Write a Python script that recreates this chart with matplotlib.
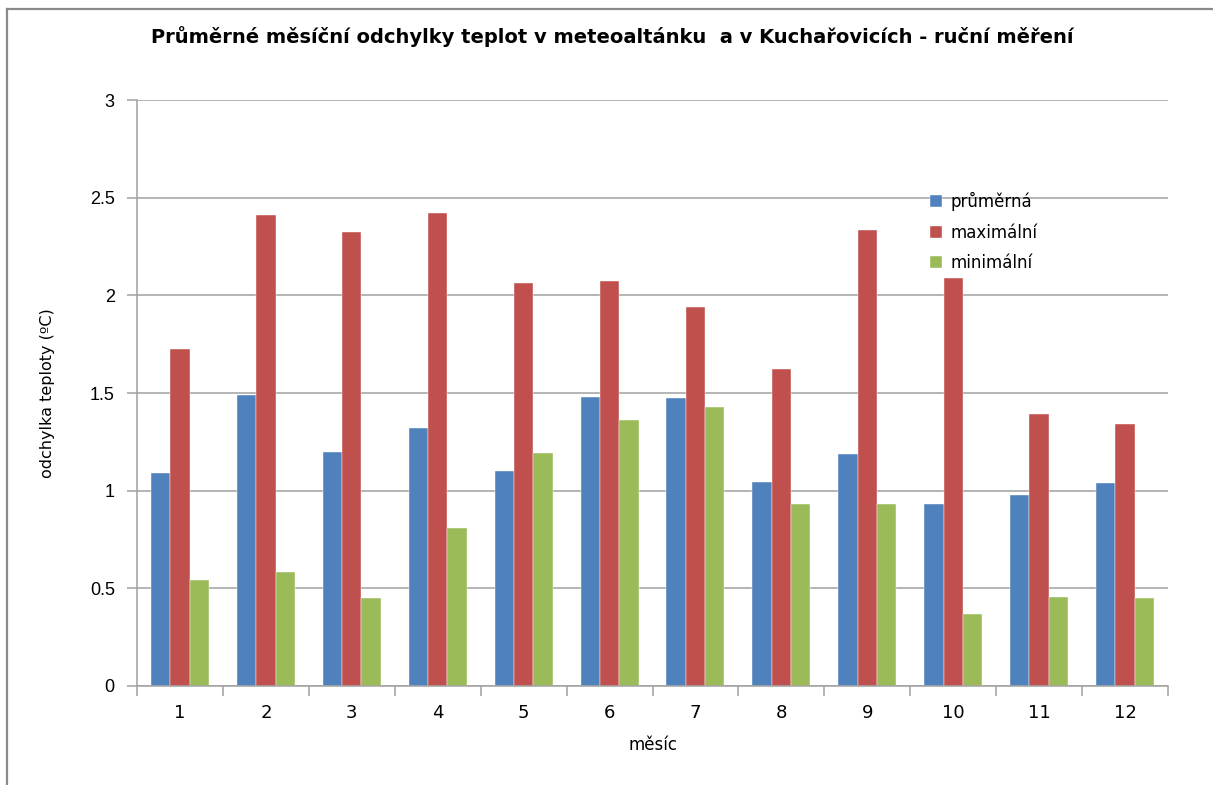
import matplotlib
matplotlib.use("Agg")
import matplotlib.pyplot as plt
from matplotlib.lines import Line2D
import numpy as np

months = ["1", "2", "3", "4", "5", "6", "7", "8", "9", "10", "11", "12"]
prumerna = [1.09, 1.49, 1.20, 1.32, 1.10, 1.48, 1.475, 1.045, 1.19, 0.93, 0.98, 1.04]
maximalni = [1.727, 2.41, 2.325, 2.42, 2.063, 2.075, 1.94, 1.625, 2.335, 2.09, 1.393, 1.34]
minimalni = [0.543, 0.586, 0.45, 0.809, 1.193, 1.362, 1.428, 0.932, 0.932, 0.369, 0.456, 0.45]
series_names = ["průměrná", "maximální", "minimální"]
series_colors = ["#4F81BD", "#C0504D", "#9BBB59"]
yticks = [0, 0.5, 1, 1.5, 2, 2.5, 3]
ytick_labels = ["0", "0.5", "1", "1.5", "2", "2.5", "3"]

W, H = 1213, 785
fig = plt.figure(figsize=(W / 100, H / 100), dpi=100)
fig.patch.set_facecolor("white")

# outer frame of the chart object (top and left edges)
fig.add_artist(Line2D([6.5 / W, 1.0], [1 - 8.5 / H, 1 - 8.5 / H], color="#8a8a8a", lw=1.6))
fig.add_artist(Line2D([6.5 / W, 6.5 / W], [0.0, 1 - 8.5 / H], color="#8a8a8a", lw=1.6))

left, right, top, bottom = 137, 1168, 100, 686
ax = fig.add_axes([left / W, 1 - bottom / H, (right - left) / W, (bottom - top) / H])

x = np.arange(len(months))
bw = 0.225
for i, (vals, name, col) in enumerate(zip([prumerna, maximalni, minimalni], series_names, series_colors)):
    ax.bar(x + (i - 1) * bw, vals, width=bw, color=col, label=name, zorder=3,
           edgecolor="white", linewidth=0.3)

ax.set_xlim(-0.5, len(months) - 0.5)
ax.set_ylim(0, 3)
ax.set_yticks(yticks)
ax.set_yticklabels(ytick_labels, fontsize=13, family="Liberation Sans")
ax.yaxis.grid(True, color="#a0a0a0", lw=1.1, zorder=0)
ax.tick_params(axis="y", length=7, color="#a0a0a0", width=1.1, pad=9)

ax.set_xticks(x)
ax.set_xticklabels(months, fontsize=13)
ax.set_xticks(np.arange(-0.5, len(months), 1), minor=True)
ax.tick_params(axis="x", which="major", length=0, pad=13)
ax.tick_params(axis="x", which="minor", length=7, color="#a0a0a0", width=1.1)

for s in ["top", "right"]:
    ax.spines[s].set_visible(False)
for s in ["left", "bottom"]:
    ax.spines[s].set_color("#a0a0a0")
    ax.spines[s].set_linewidth(1.1)
ax.spines["bottom"].set_zorder(4)

ax.set_ylabel("odchylka teploty (ºC)", fontsize=11.5, labelpad=25)
ax.set_xlabel("měsíc", fontsize=12, labelpad=10)

fig.text(612 / W, 1 - 37 / H,
         "Průměrné měsíční odchylky teplot v meteoaltánku  a v Kuchařovicích - ruční měření",
         ha="center", va="center", fontsize=14, fontweight="bold")

leg = ax.legend(loc="upper left", bbox_to_anchor=(915 / W, 1 - 177 / H), bbox_transform=fig.transFigure,
                frameon=False, fontsize=12, handlelength=0.7, handleheight=0.7,
                handletextpad=0.5, labelspacing=0.75)

fig.savefig("out.png", dpi=100, facecolor="white")
